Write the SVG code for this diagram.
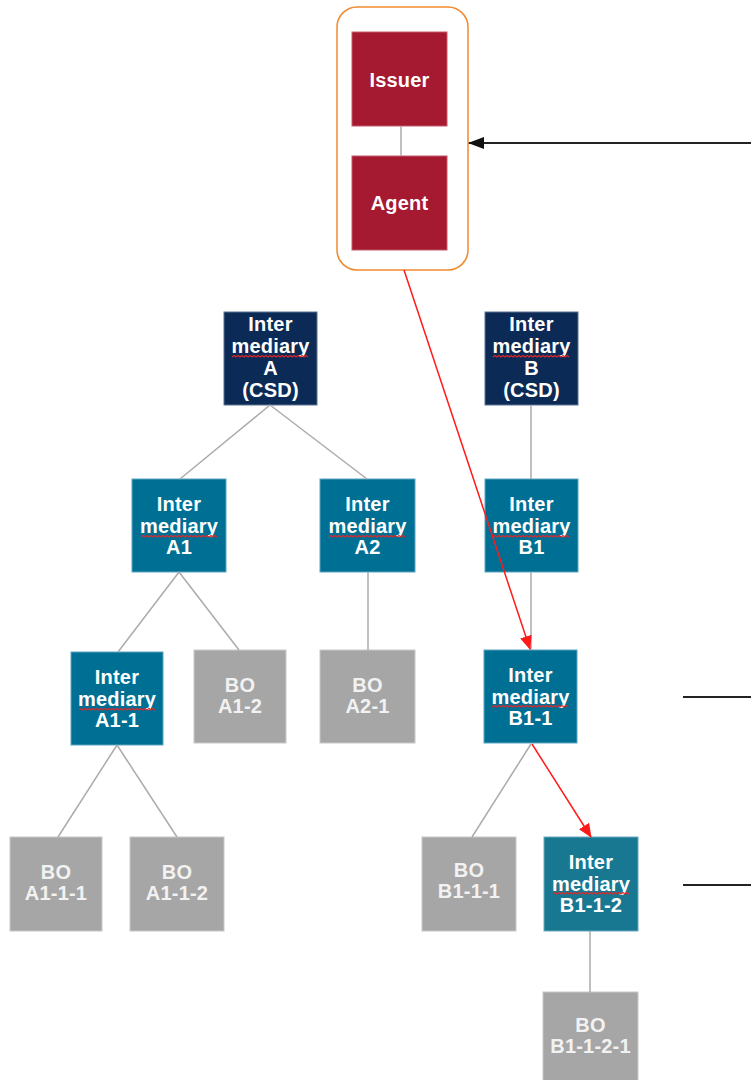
<svg xmlns="http://www.w3.org/2000/svg" xmlns:xlink="http://www.w3.org/1999/xlink" width="751" height="1080" viewBox="0 0 751 1080">
<style>
  text { font-family: "Liberation Sans", Arial, sans-serif; font-weight: bold; font-size: 20px; fill: #ffffff; text-anchor: middle; letter-spacing: 0.2px; }
  .bo text { fill: #f2f2f2; }
  .red rect { fill: #A51931; stroke: #c45a6a; stroke-width: 1; }
  .navy rect { fill: #0C2A56; stroke: #5a7090; stroke-width: 1; }
  .teal rect { fill: #006F94; stroke: #5aa6c0; stroke-width: 1; }
  .teal2 rect { fill: #187892; stroke: #6aaabb; stroke-width: 1; }
  .bo rect { fill: #A6A6A6; stroke: #c8c8c8; stroke-width: 1; }
  .tree { stroke: #ABABAB; stroke-width: 1.5; fill: none; }
  .flow { stroke: #FF1A1A; stroke-width: 1.5; fill: none; }
  .blk { stroke: #222222; stroke-width: 2; fill: none; }
  .sq { stroke: #E02828; stroke-width: 1.1; fill: none; }
</style>
<defs>
  <marker id="redArrow" markerUnits="userSpaceOnUse" markerWidth="14" markerHeight="12" refX="13" refY="6" orient="auto">
    <path d="M0,0 L14,6 L0,12 Z" fill="#FF1A1A"/>
  </marker>
  <marker id="blackArrow" markerUnits="userSpaceOnUse" markerWidth="16" markerHeight="12" refX="15" refY="6" orient="auto">
    <path d="M0,0 L16,6 L0,12 Z" fill="#111111"/>
  </marker>
  <path id="squiggle" d="M0,0 l2,-1.5 l2,1.5 l2,-1.5 l2,1.5 l2,-1.5 l2,1.5 l2,-1.5 l2,1.5 l2,-1.5 l2,1.5 l2,-1.5 l2,1.5 l2,-1.5 l2,1.5 l2,-1.5 l2,1.5 l2,-1.5 l2,1.5 l2,-1.5 l2,1.5 l2,-1.5 l2,1.5 l2,-1.5 l2,1.5 l2,-1.5 l2,1.5 l2,-1.5 l2,1.5 l2,-1.5 l2,1.5 l2,-1.5 l2,1.5 l2,-1.5 l2,1.5 l2,-1.5 l2,1.5 l2,-1.5 l2,1.5"/>
</defs>

<g id="issuer-agent-group">
  <rect x="337" y="7" width="131" height="263" rx="20" ry="20" fill="#ffffff" stroke="#F08A2C" stroke-width="1.5"/>
</g>

<g id="issuer" class="red">
  <rect x="352" y="32" width="95" height="94"/>
  <text x="399.5" y="87">Issuer</text>
</g>
<g id="agent" class="red">
  <rect x="352" y="156" width="95" height="94"/>
  <text x="399.5" y="210">Agent</text>
</g>

<g id="intermediary-a" class="navy">
  <rect x="224" y="312" width="93" height="93"/>
  <text x="270.5" y="331">Inter</text>
  <text x="270.5" y="353">mediary</text>
  <text x="270.5" y="375">A</text>
  <text x="270.5" y="397">(CSD)</text>
  <use xlink:href="#squiggle" class="sq" x="232" y="357"/>
</g>
<g id="intermediary-b" class="navy">
  <rect x="485" y="312" width="93" height="93"/>
  <text x="531.5" y="331">Inter</text>
  <text x="531.5" y="353">mediary</text>
  <text x="531.5" y="375">B</text>
  <text x="531.5" y="397">(CSD)</text>
  <use xlink:href="#squiggle" class="sq" x="493" y="357"/>
</g>

<g id="intermediary-a1" class="teal">
  <rect x="132" y="479" width="94" height="93"/>
  <text x="179" y="511">Inter</text>
  <text x="179" y="533">mediary</text>
  <text x="179" y="554">A1</text>
  <use xlink:href="#squiggle" class="sq" x="141" y="537"/>
</g>
<g id="intermediary-a2" class="teal">
  <rect x="320" y="479" width="95" height="93"/>
  <text x="367.5" y="511">Inter</text>
  <text x="367.5" y="533">mediary</text>
  <text x="367.5" y="554">A2</text>
  <use xlink:href="#squiggle" class="sq" x="329" y="537"/>
</g>
<g id="intermediary-b1" class="teal">
  <rect x="485" y="479" width="93" height="93"/>
  <text x="531.5" y="511">Inter</text>
  <text x="531.5" y="533">mediary</text>
  <text x="531.5" y="554">B1</text>
  <use xlink:href="#squiggle" class="sq" x="493" y="537"/>
</g>

<g id="intermediary-a1-1" class="teal">
  <rect x="71" y="652" width="92" height="93"/>
  <text x="117" y="684">Inter</text>
  <text x="117" y="706">mediary</text>
  <text x="117" y="727">A1-1</text>
  <use xlink:href="#squiggle" class="sq" x="79" y="710"/>
</g>
<g id="bo-a1-2" class="bo">
  <rect x="194" y="650" width="92" height="93"/>
  <text x="240" y="692">BO</text>
  <text x="240" y="713">A1-2</text>
</g>
<g id="bo-a2-1" class="bo">
  <rect x="320" y="650" width="95" height="93"/>
  <text x="367.5" y="692">BO</text>
  <text x="367.5" y="713">A2-1</text>
</g>
<g id="intermediary-b1-1" class="teal">
  <rect x="484" y="650" width="93" height="93"/>
  <text x="530.5" y="682">Inter</text>
  <text x="530.5" y="704">mediary</text>
  <text x="530.5" y="725">B1-1</text>
  <use xlink:href="#squiggle" class="sq" x="492" y="707"/>
</g>

<g id="bo-a1-1-1" class="bo">
  <rect x="10" y="837" width="92" height="94"/>
  <text x="56" y="879">BO</text>
  <text x="56" y="900">A1-1-1</text>
</g>
<g id="bo-a1-1-2" class="bo">
  <rect x="130" y="837" width="94" height="94"/>
  <text x="177" y="879">BO</text>
  <text x="177" y="900">A1-1-2</text>
</g>
<g id="bo-b1-1-1" class="bo">
  <rect x="422" y="837" width="94" height="94"/>
  <text x="469" y="877">BO</text>
  <text x="469" y="898">B1-1-1</text>
</g>
<g id="intermediary-b1-1-2" class="teal2">
  <rect x="544" y="837" width="94" height="94"/>
  <text x="591" y="869">Inter</text>
  <text x="591" y="891">mediary</text>
  <text x="591" y="912">B1-1-2</text>
  <use xlink:href="#squiggle" class="sq" x="553" y="894"/>
</g>
<g id="bo-b1-1-2-1" class="bo">
  <rect x="543" y="992" width="95" height="94"/>
  <text x="590.5" y="1032">BO</text>
  <text x="590.5" y="1053">B1-1-2-1</text>
</g>

<g id="connectors">
  <line class="tree" x1="401" y1="126" x2="401" y2="156"/>
  <line class="tree" x1="270" y1="405" x2="180" y2="479"/>
  <line class="tree" x1="270" y1="405" x2="367" y2="479"/>
  <line class="tree" x1="179" y1="572" x2="118" y2="652"/>
  <line class="tree" x1="179" y1="572" x2="239" y2="650"/>
  <line class="tree" x1="368" y1="572" x2="368" y2="650"/>
  <line class="tree" x1="117" y1="745" x2="58" y2="837"/>
  <line class="tree" x1="117" y1="745" x2="177" y2="837"/>
  <line class="tree" x1="531" y1="405" x2="531" y2="479"/>
  <line class="tree" x1="531" y1="572" x2="531" y2="650"/>
  <line class="tree" x1="531" y1="744" x2="472" y2="837"/>
  <line class="tree" x1="590" y1="931" x2="590" y2="992"/>
  <line class="flow" x1="404" y1="270" x2="530" y2="649" marker-end="url(#redArrow)"/>
  <line class="flow" x1="532" y1="744" x2="591" y2="837" marker-end="url(#redArrow)"/>
  <line class="blk" x1="751" y1="143" x2="469" y2="143" marker-end="url(#blackArrow)"/>
  <line class="blk" x1="683" y1="697" x2="751" y2="697"/>
  <line class="blk" x1="683" y1="885" x2="751" y2="885"/>
</g>
</svg>
